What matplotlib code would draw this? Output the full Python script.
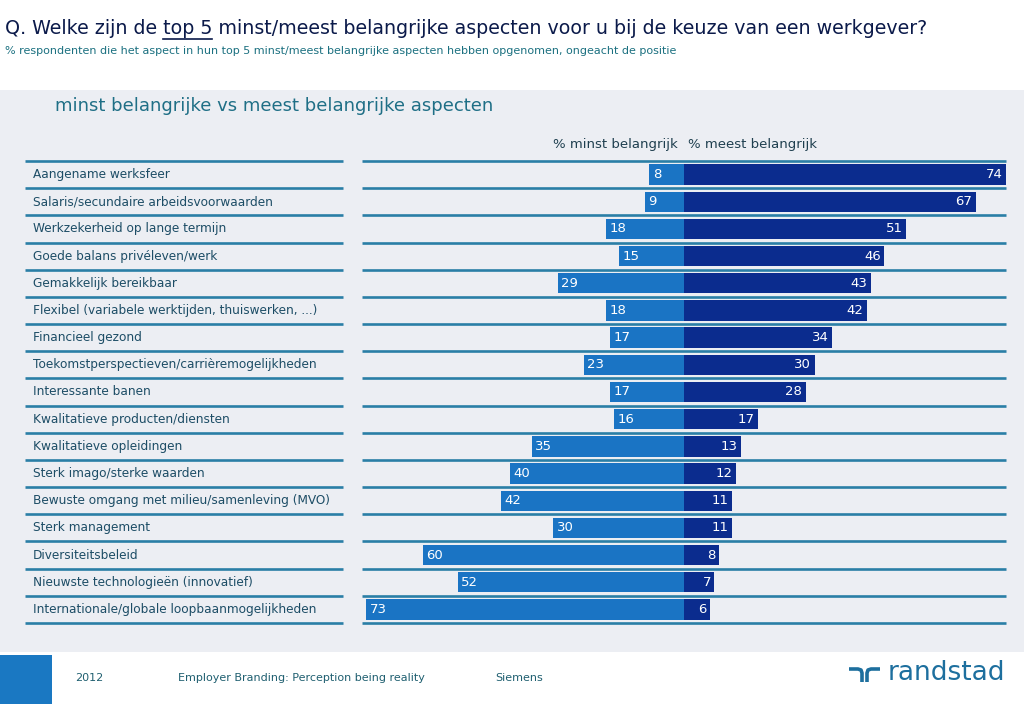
import matplotlib
matplotlib.use('Agg')
import matplotlib.pyplot as plt
from matplotlib.patches import Rectangle
import numpy as np

plt.rcParams['font.family'] = ['DejaVu Sans']

aspects = [
    'Aangename werksfeer',
    'Salaris/secundaire arbeidsvoorwaarden',
    'Werkzekerheid op lange termijn',
    'Goede balans privéleven/werk',
    'Gemakkelijk bereikbaar',
    'Flexibel (variabele werktijden, thuiswerken, ...)',
    'Financieel gezond',
    'Toekomstperspectieven/carrièremogelijkheden',
    'Interessante banen',
    'Kwalitatieve producten/diensten',
    'Kwalitatieve opleidingen',
    'Sterk imago/sterke waarden',
    'Bewuste omgang met milieu/samenleving (MVO)',
    'Sterk management',
    'Diversiteitsbeleid',
    'Nieuwste technologieën (innovatief)',
    'Internationale/globale loopbaanmogelijkheden',
]
minst = [8, 9, 18, 15, 29, 18, 17, 23, 17, 16, 35, 40, 42, 30, 60, 52, 73]
meest = [74, 67, 51, 46, 43, 42, 34, 30, 28, 17, 13, 12, 11, 11, 8, 7, 6]

W, H = 1024, 704
C_MINST = '#1a74c4'
C_MEEST = '#0b2c8e'
C_LINE = '#2a7ea6'
C_LABEL = '#1d4d66'
C_TEAL = '#1f6f86'

fig = plt.figure(figsize=(W / 100, H / 100), dpi=100)
fig.patch.set_facecolor('white')

# grey panel + footer block
fig.add_artist(Rectangle((0, 1 - 652 / H), 1, (652 - 90) / H, transform=fig.transFigure,
                         facecolor='#eceef3', edgecolor='none', zorder=0))
fig.add_artist(Rectangle((0, 0), 52 / W, (704 - 655) / H, transform=fig.transFigure,
                         facecolor='#1a78c2', edgecolor='none', zorder=1))

def px(x, y):
    return x / W, 1 - y / H

# title with underlined "top 5"
title = 'Q. Welke zijn de top 5 minst/meest belangrijke aspecten voor u bij de keuze van een werkgever?'
tx, ty = px(5, 29)
t = fig.text(tx, ty, title, fontsize=13.7, color='#0b1a4a', va='center', ha='left')
r = fig.canvas.get_renderer()
def wfig(s):
    tmp = fig.text(tx, ty, s, fontsize=13.7)
    w = tmp.get_window_extent(renderer=r).width / W
    tmp.remove()
    return w
end = wfig('Q. Welke zijn de top 5')
start = end - wfig('top 5')
fig.add_artist(plt.Line2D([tx + start, tx + end], [1 - 38.5 / H] * 2, transform=fig.transFigure,
                          color='#0b1a4a', lw=1.2))

fig.text(*px(5, 51), '% respondenten die het aspect in hun top 5 minst/meest belangrijke aspecten hebben opgenomen, ongeacht de positie',
         fontsize=8, color='#1b7080', va='center')
fig.text(*px(55, 106), 'minst belangrijke vs meest belangrijke aspecten', fontsize=13,
         color=C_TEAL, va='center')

n = len(aspects)
y = np.arange(n)

# bar axes
ax = fig.add_axes([362 / W, 1 - 623 / H, 644 / W, 462 / H])
ax.set_facecolor('none')
ax.barh(y, [-v for v in minst], height=0.75, color=C_MINST, zorder=2)
ax.barh(y, meest, height=0.75, color=C_MEEST, zorder=2)
ax.hlines(np.arange(n + 1) - 0.5, -74, 74, color=C_LINE, lw=1.9, zorder=1, clip_on=False)
for i in range(n):
    ax.text(-minst[i] + 0.8, i, str(minst[i]), color='white', fontsize=9.5,
            va='center', ha='left', zorder=3)
    ax.text(meest[i] - 0.8, i, str(meest[i]), color='white', fontsize=9.5,
            va='center', ha='right', zorder=3)
ax.set_xlim(-74, 74)
ax.set_ylim(n - 0.5, -0.5)
ax.axis('off')
ax.text(-1.5, -1.1, '% minst belangrijk', ha='right', va='center', fontsize=9.5, color='#1f3f4f')
ax.text(1, -1.1, '% meest belangrijk', ha='left', va='center', fontsize=9.5, color='#1f3f4f')

# label axes
lx = fig.add_axes([25 / W, 1 - 623 / H, 318 / W, 462 / H])
lx.set_facecolor('none')
lx.hlines(np.arange(n + 1) - 0.5, 0, 1, color=C_LINE, lw=1.9, clip_on=False)
for i, a in enumerate(aspects):
    lx.text(0.025, i, a, fontsize=8.7, color=C_LABEL, va='center', ha='left')
lx.set_xlim(0, 1)
lx.set_ylim(n - 0.5, -0.5)
lx.axis('off')

# footer
fig.text(*px(75, 678), '2012', fontsize=8, color='#1f5f70', va='center')
fig.text(*px(178, 678), 'Employer Branding: Perception being reality', fontsize=8, color='#1f5f70', va='center')
fig.text(*px(495, 678), 'Siemens', fontsize=8, color='#1f5f70', va='center')
fig.text(*px(1005, 673), 'randstad', fontsize=19, color='#1d6f9e', va='center', ha='right')
# logo mark
lc = '#1d6f9e'
for xs, ys in [([849, 858, 861, 862, 862], [669, 669, 670, 673, 682]),
               ([867, 867, 868, 871, 880], [682, 673, 670, 669, 669])]:
    fig.add_artist(plt.Line2D([v / W for v in xs], [1 - v / H for v in ys],
                              transform=fig.transFigure, color=lc, lw=2.6,
                              solid_capstyle='butt'))

fig.savefig('out.png', dpi=100)
